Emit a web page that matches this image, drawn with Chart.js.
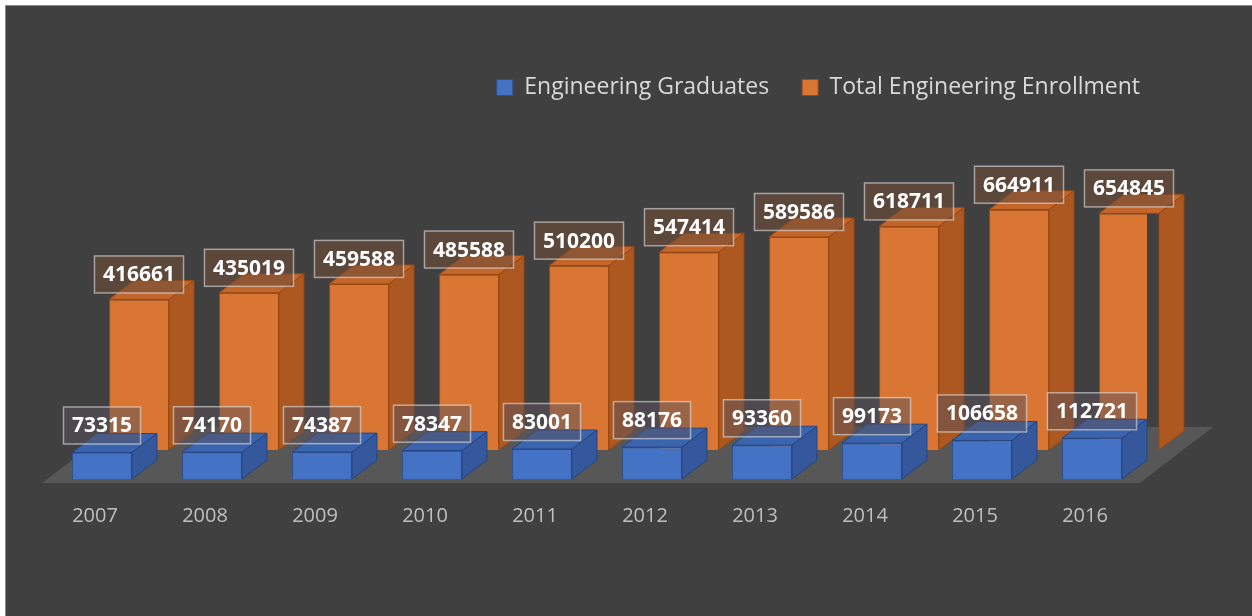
<!DOCTYPE html>
<html lang="en">
<head>
    <meta charset="UTF-8">
    <title>Engineering Graduates and Enrollment</title>
    <script src="https://cdn.jsdelivr.net/npm/chart.js"></script>
    <style>
        html, body {
            margin: 0;
            padding: 0;
            background: #fff;
        }

        /* dark chart panel, white margin on top and left like the reference */
        .panel {
            position: absolute;
            left: 5px;
            top: 5px;
            width: 1247px;
            height: 611px;
            background: #404040;
            border-left: 1px solid #8a8a8a;
            border-top: 1px solid #8a8a8a;
            box-sizing: border-box;
        }
    </style>
</head>
<body>

    <div class="panel">
        <canvas id="engChart"></canvas>
    </div>

    <script>
        const years = ['2007', '2008', '2009', '2010', '2011', '2012', '2013', '2014', '2015', '2016'];
        const graduates = [73315, 74170, 74387, 78347, 83001, 88176, 93360, 99173, 106658, 112721];
        const enrollment = [416661, 435019, 459588, 485588, 510200, 547414, 589586, 618711, 664911, 654845];

        // fake 3D: depth of each box and the offset of the back row
        const DEPTH_X = 25, DEPTH_Y = -19;
        const BACK_X = 37, BACK_Y = -29;

        const faces = [
            { top: '#3b64ae', side: '#34589b', edge: '#26447f', labelFill: 'rgba(90, 82, 92, 0.5)', labelDy: 27 },
            { top: '#c4652a', side: '#ac5820', edge: '#9a4812', labelFill: 'rgba(112, 76, 56, 0.6)', labelDy: 25 }
        ];

        const bars3d = {
            id: 'bars3d',
            afterDatasetsUpdate(chart) {
                // push the enrollment row back and to the right
                chart.getDatasetMeta(1).data.forEach(el => {
                    el.x += BACK_X;
                    el.y += BACK_Y;
                    el.base += BACK_Y;
                });
            },
            beforeDatasetsDraw(chart) {
                // floor
                const ctx = chart.ctx;
                const a = chart.chartArea;
                const y0 = a.bottom + 4;
                ctx.save();
                ctx.fillStyle = '#575757';
                ctx.beginPath();
                ctx.moveTo(a.left - 5, y0);
                ctx.lineTo(a.right - 7, y0);
                ctx.lineTo(a.right + 66, y0 - 56);
                ctx.lineTo(a.left + 68, y0 - 56);
                ctx.closePath();
                ctx.fill();
                ctx.restore();
            },
            afterDatasetDraw(chart, args) {
                const ctx = chart.ctx;
                const f = faces[args.index];
                ctx.save();
                ctx.lineWidth = 1;
                ctx.strokeStyle = f.edge;
                args.meta.data.forEach(el => {
                    const l = el.x - el.width / 2, r = el.x + el.width / 2;
                    const t = el.y, b = el.base;
                    // top
                    ctx.fillStyle = f.top;
                    ctx.beginPath();
                    ctx.moveTo(l, t);
                    ctx.lineTo(r, t);
                    ctx.lineTo(r + DEPTH_X, t + DEPTH_Y);
                    ctx.lineTo(l + DEPTH_X, t + DEPTH_Y);
                    ctx.closePath();
                    ctx.fill();
                    ctx.stroke();
                    // right side
                    ctx.fillStyle = f.side;
                    ctx.beginPath();
                    ctx.moveTo(r, t);
                    ctx.lineTo(r + DEPTH_X, t + DEPTH_Y);
                    ctx.lineTo(r + DEPTH_X, b + DEPTH_Y);
                    ctx.lineTo(r, b);
                    ctx.closePath();
                    ctx.fill();
                    ctx.stroke();
                });
                ctx.restore();
            },
            afterDatasetsDraw(chart) {
                // value boxes
                const ctx = chart.ctx;
                ctx.save();
                ctx.font = 'bold 21px "Open Sans"';
                ctx.textAlign = 'center';
                ctx.textBaseline = 'middle';
                [1, 0].forEach(di => {
                    const f = faces[di];
                    const values = chart.data.datasets[di].data;
                    chart.getDatasetMeta(di).data.forEach((el, i) => {
                        const txt = String(values[i]);
                        const w = ctx.measureText(txt).width + 17;
                        const h = 37;
                        const cx = el.x, cy = el.y - f.labelDy;
                        ctx.fillStyle = f.labelFill;
                        ctx.fillRect(cx - w / 2, cy - h / 2, w, h);
                        ctx.strokeStyle = 'rgba(225, 225, 225, 0.6)';
                        ctx.lineWidth = 1.5;
                        ctx.strokeRect(cx - w / 2, cy - h / 2, w, h);
                        ctx.fillStyle = '#ffffff';
                        ctx.fillText(txt, cx, cy + 1);
                    });
                });
                ctx.restore();
            }
        };

        Chart.defaults.font.family = '"Open Sans", sans-serif';

        const ctx = document.getElementById('engChart').getContext('2d');
        const engChart = new Chart(ctx, {
            type: 'bar',
            data: {
                labels: years,
                datasets: [
                    {
                        label: 'Engineering Graduates',
                        data: graduates,
                        backgroundColor: '#4472c4',
                        borderColor: '#2f528f',
                        borderWidth: 1,
                        grouped: false,
                        barPercentage: 0.545,
                        categoryPercentage: 1
                    },
                    {
                        label: 'Total Engineering Enrollment',
                        data: enrollment,
                        backgroundColor: '#da7633',
                        borderColor: '#a04a12',
                        borderWidth: 1,
                        grouped: false,
                        barPercentage: 0.545,
                        categoryPercentage: 1
                    }
                ]
            },
            options: {
                responsive: true,
                maintainAspectRatio: false,
                animation: false,
                layout: {
                    padding: { left: 41, right: 79, top: 37, bottom: 63 }
                },
                plugins: {
                    legend: {
                        position: 'top',
                        align: 'end',
                        labels: {
                            color: '#d9d9d9',
                            font: { size: 23 },
                            boxWidth: 16,
                            boxHeight: 16,
                            padding: 33
                        }
                    },
                    tooltip: { enabled: false }
                },
                scales: {
                    x: {
                        grid: { display: false, drawTicks: false },
                        border: { display: false },
                        ticks: {
                            color: '#bfbfbf',
                            font: { size: 20 },
                            padding: 25,
                            labelOffset: -7
                        }
                    },
                    y: {
                        display: false,
                        min: 0,
                        max: 1024000
                    },
                    // empty right axis, only keeps room for the floor's depth
                    yRight: {
                        position: 'right',
                        grid: { display: false, drawTicks: false },
                        border: { display: false },
                        ticks: { display: false },
                        afterFit(scale) {
                            scale.width = 26;
                        }
                    }
                }
            },
            plugins: [bars3d]
        });
    </script>

</body>
</html>
